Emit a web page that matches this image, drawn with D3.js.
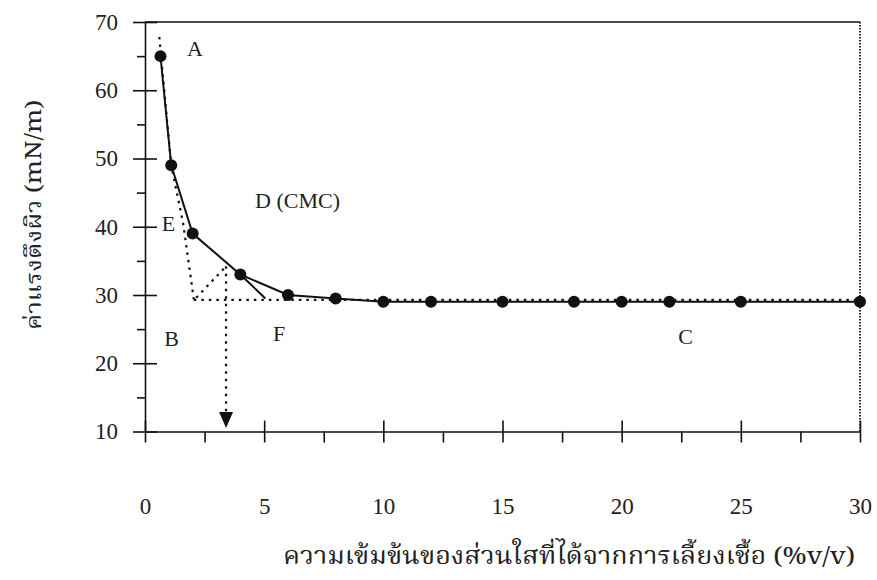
<!DOCTYPE html>
<html>
<head>
<meta charset="utf-8">
<script src="https://cdn.jsdelivr.net/npm/d3@7"></script>
<style>
  body { margin: 0; background: #fff; }
  svg { display: block; }
</style>
</head>
<body>
<div class="cmc-chart"></div>
<script>
// surface tension vs concentration of culture supernatant
const concentration = [0.65, 1.1, 2, 4, 6, 8, 10, 12, 15, 18, 20, 22, 25, 30];
const tension = [65, 49, 39, 33, 30, 29.5, 29, 29, 29, 29, 29, 29, 29, 29];

const xMajor = [0, 5, 10, 15, 20, 25, 30];
const xMinor = [2.5, 7.5, 12.5, 17.5, 22.5, 27.5];
const yMajor = [10, 20, 30, 40, 50, 60, 70];
const yMinor = [15, 25, 35, 45, 55, 65];

// construction lines (dotted / solid) used to find the CMC
const lineAB = [[0.6, 67.8], [1.1, 49], [1.6, 40.5], [2.05, 29.3]];
const lineBC = [[2.05, 29.3], [30, 29.3]];
const lineEF = [[4, 33], [5.05, 29.5]];
const bisector = [[2.15, 29.6], [3.4, 34.2]];
const cmcDrop = [[3.4, 34.2], [3.4, 12]];
const cmcArrowTip = [3.4, 10.5];

const labels = [
  { t: 'A', x: 2.1, y: 66.2 },
  { t: 'B', x: 1.12, y: 23.7 },
  { t: 'E', x: 0.98, y: 40.5 },
  { t: 'F', x: 5.63, y: 24.4 },
  { t: 'C', x: 22.68, y: 23.9 },
  { t: 'D (CMC)', x: 6.4, y: 43.9 }
];

const xTitle = 'ความเข้มข้นของส่วนใสที่ได้จากการเลี้ยงเชื้อ (%v/v)';
const yTitle = 'ค่าแรงตึงผิว (mN/m)';

const W = 877, H = 580;
const serif = '"Liberation Serif", "DejaVu Serif", serif';

const svg = d3.select('.cmc-chart')
  .append('svg')
  .attr('width', W)
  .attr('height', H);

const x = d3.scaleLinear().domain([0, 30]).range([145, 860]);
const y = d3.scaleLinear().domain([10, 70]).range([431.5, 22]);

// x axis
const gx = svg.append('g')
  .attr('transform', `translate(0,${y(10)})`)
  .call(d3.axisBottom(x).tickValues(xMajor).tickSize(11).tickPadding(55).tickSizeOuter(0));
gx.selectAll('.tick line').attr('y1', -11);
gx.append('g').call(d3.axisBottom(x).tickValues(xMinor).tickSize(11).tickFormat('').tickSizeOuter(0))
  .select('.domain').remove();

// y axis
const gy = svg.append('g')
  .attr('transform', `translate(${x(0)},0)`)
  .call(d3.axisLeft(y).tickValues(yMajor).tickSize(12).tickPadding(15).tickSizeOuter(0));
gy.selectAll('.tick line').attr('x1', 12);
gy.append('g').call(d3.axisLeft(y).tickValues(yMinor).tickSize(8).tickFormat('').tickSizeOuter(0))
  .select('.domain').remove();

svg.selectAll('.domain, .tick line')
  .attr('stroke', '#111')
  .attr('stroke-width', 1.6);
svg.selectAll('.tick text')
  .attr('font-family', serif)
  .attr('font-size', 23)
  .attr('fill', '#222');

// frame: solid top, dotted right
svg.append('line')
  .attr('x1', x(0)).attr('x2', x(30))
  .attr('y1', y(70)).attr('y2', y(70))
  .attr('stroke', '#111').attr('stroke-width', 1.6);
svg.append('line')
  .attr('x1', x(30)).attr('x2', x(30))
  .attr('y1', y(70)).attr('y2', y(10))
  .attr('stroke', '#222').attr('stroke-width', 2)
  .attr('stroke-dasharray', '1.5,1.5');

const line = d3.line().x(d => x(d[0])).y(d => y(d[1]));
const dotted = (pts) => svg.append('path')
  .attr('d', line(pts))
  .attr('fill', 'none')
  .attr('stroke', '#111')
  .attr('stroke-width', 2.2)
  .attr('stroke-dasharray', '2.5,5');

dotted(lineAB);
dotted(lineBC);
dotted(bisector);
dotted(cmcDrop);

svg.append('path')
  .attr('d', line(lineEF))
  .attr('fill', 'none')
  .attr('stroke', '#111')
  .attr('stroke-width', 2);

// arrow head
const tx = x(cmcArrowTip[0]), ty = y(cmcArrowTip[1]);
svg.append('path')
  .attr('d', `M${tx - 7},${ty - 16}L${tx + 7},${ty - 16}L${tx},${ty}Z`)
  .attr('fill', '#111');

// data line + points
const data = concentration.map((c, i) => [c, tension[i]]);
svg.append('path')
  .attr('d', line(data))
  .attr('fill', 'none')
  .attr('stroke', '#111')
  .attr('stroke-width', 2);

svg.selectAll('circle.pt')
  .data(data)
  .enter()
  .append('circle')
  .attr('class', 'pt')
  .attr('cx', d => x(d[0]))
  .attr('cy', d => y(d[1]))
  .attr('r', 6)
  .attr('fill', '#111');

// letters
svg.selectAll('text.lbl')
  .data(labels)
  .enter()
  .append('text')
  .attr('class', 'lbl')
  .attr('x', d => x(d.x))
  .attr('y', d => y(d.y))
  .attr('dy', '0.35em')
  .attr('text-anchor', 'middle')
  .attr('font-family', serif)
  .attr('font-size', 22)
  .attr('fill', '#222')
  .text(d => d.t);

// axis titles
svg.append('text')
  .attr('x', 283)
  .attr('y', 564)
  .attr('font-family', '"Noto Serif Thai", "Noto Sans Thai", serif')
  .attr('font-size', 24)
  .attr('textLength', 572)
  .attr('lengthAdjust', 'spacingAndGlyphs')
  .attr('fill', '#222')
  .text(xTitle);

svg.append('text')
  .attr('transform', 'translate(41,330) rotate(-90)')
  .attr('font-family', '"Noto Serif Thai", "Noto Sans Thai", serif')
  .attr('font-size', 22)
  .attr('textLength', 230)
  .attr('lengthAdjust', 'spacingAndGlyphs')
  .attr('fill', '#222')
  .text(yTitle);
</script>
</body>
</html>
